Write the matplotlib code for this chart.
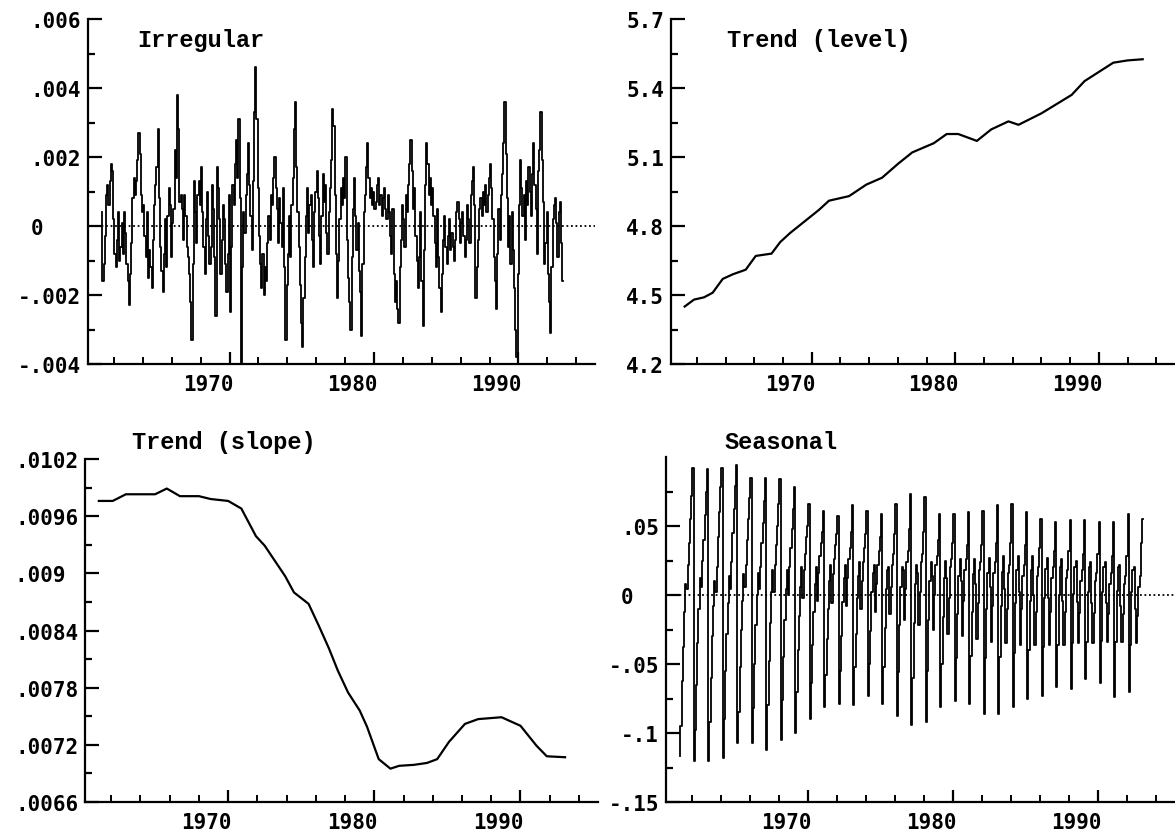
import numpy as np
import matplotlib.pyplot as plt
from matplotlib.ticker import FixedLocator, FixedFormatter

# monthly observations start here
START_YEAR = 1962.65

# irregular component, one row per 12 months
irregular = [
    0.0004, -0.0016, -0.0011, -0.0003, 0.0009, 0.0012, 0.0006, 0.0013, 0.0018, 0.0016, 0.0002, -0.0008,
    -0.0012, -0.0004, 0.0004, -0.0010, -0.0006, 0.0001, -0.0008, 0.0004, -0.0002, -0.0011, -0.0016, -0.0023,
    -0.0014, -0.0005, 0.0008, 0.0014, 0.0009, 0.0013, 0.0019, 0.0027, 0.0021, 0.0009, 0.0004, 0.0006,
    -0.0003, -0.0009, 0.0004, -0.0015, -0.0007, -0.0012, -0.0018, -0.0004, 0.0006, 0.0012, 0.0017, 0.0028,
    0.0008, -0.0006, -0.0013, -0.0019, -0.0008, 0.0002, -0.0012, 0.0003, 0.0011, 0.0006, -0.0009, 0.0001,
    0.0005, 0.0022, 0.0014, 0.0038, 0.0028, 0.0007, 0.0009, 0.0005, -0.0004, 0.0009, 0.0003, -0.0006,
    -0.0009, -0.0014, -0.0022, -0.0033, -0.0011, 0.0013, 0.0004, -0.0005, 0.0009, 0.0013, 0.0006, 0.0017,
    0.0004, -0.0006, -0.0014, 0.0002, 0.0010, -0.0003, -0.0011, -0.0006, 0.0012, 0.0005, -0.0009, -0.0026,
    0.0017, 0.0011, 0.0002, -0.0014, -0.0004, 0.0006, 0.0002, -0.0011, -0.0019, -0.0008, 0.0009, -0.0025,
    -0.0006, 0.0012, 0.0006, 0.0018, 0.0025, 0.0014, 0.0031, 0.0008, -0.0040, -0.0012, 0.0004, -0.0002,
    0.0009, 0.0015, 0.0024, 0.0012, 0.0003, -0.0007, 0.0013, 0.0033, 0.0046, 0.0031, 0.0011, -0.0003,
    -0.0011, -0.0018, -0.0008, -0.0020, -0.0012, -0.0016, -0.0005, 0.0003, -0.0004, 0.0009, 0.0006, 0.0014,
    0.0020, 0.0011, 0.0005, -0.0005, 0.0008, 0.0001, -0.0006, 0.0011, -0.0012, -0.0033, -0.0017, -0.0008,
    0.0003, -0.0009, 0.0006, 0.0014, 0.0028, 0.0036, 0.0017, 0.0004, -0.0006, -0.0017, -0.0028, -0.0035,
    -0.0021, -0.0009, 0.0003, 0.0011, -0.0002, 0.0006, 0.0009, -0.0004, -0.0012, 0.0004, 0.0010, 0.0016,
    0.0008, -0.0003, -0.0011, 0.0003, 0.0015, 0.0007, 0.0012, -0.0002, -0.0008, 0.0004, 0.0011, 0.0019,
    0.0034, 0.0029, 0.0009, -0.0008, -0.0021, -0.0010, 0.0002, 0.0011, 0.0006, 0.0014, 0.0008, 0.0020,
    -0.0004, -0.0015, -0.0022, -0.0030, -0.0009, 0.0005, 0.0014, 0.0003, -0.0007, 0.0001, -0.0013, -0.0019,
    -0.0032, -0.0011, 0.0004, 0.0009, 0.0017, 0.0024, 0.0014, 0.0008, 0.0011, 0.0006, 0.0010, 0.0005,
    0.0007, 0.0012, 0.0014, 0.0006, 0.0009, 0.0003, 0.0008, 0.0011, 0.0005, 0.0002, 0.0009, 0.0004,
    -0.0003, -0.0008, 0.0005, -0.0014, -0.0022, -0.0016, -0.0024, -0.0028, -0.0012, -0.0004, 0.0006, 0.0002,
    -0.0006, 0.0009, 0.0004, 0.0012, 0.0018, 0.0025, 0.0016, 0.0005, 0.0011, -0.0003, -0.0010, -0.0018,
    -0.0009, 0.0004, -0.0016, -0.0029, -0.0007, 0.0012, 0.0024, 0.0018, 0.0009, 0.0014, 0.0006, 0.0011,
    0.0003, -0.0005, -0.0012, 0.0005, -0.0009, -0.0018, -0.0025, -0.0014, -0.0004, 0.0003, -0.0006, -0.0011,
    -0.0003, 0.0002, -0.0007, -0.0002, -0.0006, -0.0010, -0.0004, 0.0004, 0.0007, 0.0002, -0.0005, 0.0001,
    0.0004, -0.0003, -0.0009, -0.0004, 0.0006, 0.0002, -0.0005, 0.0009, 0.0013, 0.0017, 0.0006, -0.0021,
    -0.0012, -0.0004, 0.0005, 0.0008, 0.0003, 0.0010, 0.0006, 0.0012, 0.0004, 0.0009, 0.0014, 0.0018,
    0.0011, 0.0002, -0.0009, -0.0016, -0.0024, -0.0008, 0.0005, -0.0004, 0.0009, 0.0015, 0.0024, 0.0036,
    0.0021, 0.0008, -0.0006, 0.0003, -0.0011, 0.0004, -0.0007, -0.0018, -0.0030, -0.0038, -0.0014, 0.0006,
    0.0019, 0.0011, 0.0003, 0.0009, -0.0004, 0.0013, 0.0006, 0.0017, 0.0010, 0.0003, 0.0015, 0.0024,
    0.0012, 0.0005, -0.0008, 0.0016, 0.0022, 0.0033, 0.0019, 0.0007, -0.0011, -0.0005, 0.0004, -0.0014,
    -0.0022, -0.0031, -0.0012, 0.0002, 0.0006, 0.0008, 0.0001, -0.0009, 0.0004, 0.0007, -0.0005, -0.0016,
]

# seasonal component, one row per 12 months (trough first, peak last)
seasonal = [
    -0.117, -0.095, -0.062, -0.038, -0.012, 0.008, 0.004, 0.022, 0.038, 0.055, 0.072, 0.092,
    -0.120, -0.098, -0.065, -0.035, -0.010, 0.012, 0.006, 0.025, 0.040, 0.058, 0.075, 0.091,
    -0.120, -0.092, -0.060, -0.030, -0.008, 0.010, 0.002, 0.020, 0.042, 0.060, 0.078, 0.092,
    -0.118, -0.090, -0.055, -0.028, -0.006, 0.014, 0.004, 0.024, 0.045, 0.062, 0.079, 0.094,
    -0.107, -0.085, -0.052, -0.025, -0.004, 0.015, 0.006, 0.022, 0.040, 0.055, 0.070, 0.085,
    -0.107, -0.082, -0.050, -0.022, 0.000, 0.016, 0.004, 0.020, 0.038, 0.052, 0.068, 0.085,
    -0.112, -0.080, -0.048, -0.020, 0.002, 0.018, 0.002, 0.022, 0.036, 0.050, 0.066, 0.084,
    -0.105, -0.076, -0.045, -0.018, 0.004, 0.018, 0.000, 0.020, 0.034, 0.048, 0.062, 0.078,
    -0.100, -0.070, -0.040, -0.015, 0.006, 0.020, -0.002, 0.018, 0.030, 0.042, 0.050, 0.066,
    -0.090, -0.064, -0.036, -0.012, 0.008, 0.020, -0.004, 0.016, 0.028, 0.038, 0.046, 0.061,
    -0.081, -0.058, -0.032, -0.010, 0.010, 0.022, -0.006, 0.015, 0.026, 0.036, 0.044, 0.057,
    -0.079, -0.055, -0.030, -0.005, 0.012, 0.022, -0.008, 0.012, 0.026, 0.034, 0.046, 0.065,
    -0.080, -0.052, -0.028, -0.002, 0.014, 0.024, -0.010, 0.010, 0.024, 0.034, 0.044, 0.061,
    -0.073, -0.050, -0.026, 0.002, 0.016, 0.022, -0.012, 0.008, 0.022, 0.032, 0.042, 0.059,
    -0.079, -0.052, -0.024, 0.004, 0.018, 0.020, -0.014, 0.006, 0.022, 0.030, 0.044, 0.066,
    -0.088, -0.056, -0.022, 0.006, 0.020, 0.018, -0.018, 0.004, 0.024, 0.032, 0.048, 0.073,
    -0.094, -0.060, -0.020, 0.008, 0.022, 0.016, -0.022, 0.002, 0.024, 0.030, 0.046, 0.071,
    -0.092, -0.055, -0.018, 0.010, 0.024, 0.014, -0.025, 0.000, 0.022, 0.028, 0.040, 0.059,
    -0.081, -0.050, -0.016, 0.012, 0.025, 0.012, -0.028, -0.002, 0.020, 0.026, 0.038, 0.059,
    -0.077, -0.046, -0.014, 0.014, 0.026, 0.010, -0.030, -0.004, 0.018, 0.026, 0.036, 0.060,
    -0.079, -0.044, -0.012, 0.015, 0.026, 0.008, -0.032, -0.006, 0.018, 0.024, 0.036, 0.061,
    -0.086, -0.046, -0.010, 0.016, 0.027, 0.006, -0.034, -0.008, 0.016, 0.024, 0.038, 0.065,
    -0.086, -0.045, -0.008, 0.017, 0.028, 0.004, -0.035, -0.010, 0.016, 0.022, 0.038, 0.066,
    -0.081, -0.042, -0.006, 0.018, 0.028, 0.002, -0.036, -0.010, 0.014, 0.022, 0.036, 0.060,
    -0.075, -0.040, -0.004, 0.018, 0.028, 0.000, -0.036, -0.012, 0.014, 0.020, 0.034, 0.055,
    -0.073, -0.038, -0.002, 0.019, 0.027, -0.002, -0.036, -0.012, 0.012, 0.020, 0.032, 0.053,
    -0.067, -0.036, 0.000, 0.020, 0.026, -0.004, -0.036, -0.012, 0.012, 0.018, 0.032, 0.054,
    -0.068, -0.035, 0.001, 0.020, 0.025, -0.005, -0.035, -0.013, 0.010, 0.018, 0.030, 0.054,
    -0.061, -0.034, 0.002, 0.020, 0.024, -0.006, -0.035, -0.013, 0.010, 0.016, 0.030, 0.053,
    -0.064, -0.033, 0.002, 0.020, 0.024, -0.006, -0.034, -0.014, 0.008, 0.016, 0.028, 0.053,
    -0.074, -0.034, 0.003, 0.020, 0.022, -0.008, -0.034, -0.014, 0.008, 0.014, 0.028, 0.059,
    -0.070, -0.036, 0.002, 0.018, 0.020, -0.010, -0.035, -0.015, 0.006, 0.014, 0.038, 0.055,
]

# trend level, read at irregular dates
level_years = [1962.65, 1963.3, 1964.0, 1964.6, 1965.3, 1966.0, 1966.9, 1967.6, 1968.7, 1969.3,
               1970.0, 1971.0, 1972.0, 1972.7, 1974.1, 1975.3, 1976.4, 1977.5, 1978.5, 1980.0,
               1980.9, 1981.7, 1983.0, 1984.0, 1985.2, 1985.9, 1987.5, 1989.6, 1990.5, 1991.5,
               1992.5, 1993.5, 1994.55]
level = [4.45, 4.48, 4.49, 4.51, 4.57, 4.59, 4.61, 4.67, 4.68, 4.73,
         4.77, 4.82, 4.87, 4.91, 4.93, 4.98, 5.01, 5.07, 5.12, 5.16,
         5.20, 5.20, 5.17, 5.22, 5.255, 5.24, 5.29, 5.37, 5.43, 5.47,
         5.51, 5.52, 5.525]

# trend slope
slope_years = [1962.65, 1963.6, 1964.5, 1966.5, 1967.3, 1968.2, 1969.5, 1970.3, 1971.5, 1972.4,
               1973.4, 1974.0, 1975.4, 1976.0, 1977.0, 1977.7, 1978.4, 1979.0, 1979.7, 1980.5,
               1981.0, 1981.8, 1982.6, 1983.2, 1984.2, 1985.1, 1985.8, 1986.6, 1987.7, 1988.6,
               1990.2, 1991.5, 1992.6, 1993.3, 1994.55]
slope = [0.00976, 0.00976, 0.00983, 0.00983, 0.00989, 0.00981, 0.00981, 0.00978, 0.00976, 0.00968,
         0.00939, 0.00929, 0.00897, 0.00880, 0.00868, 0.00845, 0.00821, 0.00798, 0.00775, 0.00756,
         0.00739, 0.00705, 0.00695, 0.00698, 0.00699, 0.00701, 0.00705, 0.00723, 0.00742, 0.00747,
         0.00749, 0.00740, 0.00719, 0.00708, 0.00707]

year_labels = [1970, 1980, 1990]
small_tick_years = [1963.5 + 2 * k for k in range(17)]
tall_tick_years = [1971.5, 1981.5, 1991.5]
XLIM = (1961.7, 1996.8)

tick_font = {'family': 'DejaVu Sans Mono', 'weight': 'bold', 'size': 15}
title_font = {'family': 'Liberation Mono', 'weight': 'bold', 'size': 17}

months = START_YEAR + np.arange(len(irregular)) / 12.0


def style_axis(ax, yticks, ylabels, yminor, ylim):
    ax.set_xlim(*XLIM)
    ax.set_ylim(*ylim)
    for side in ('top', 'right'):
        ax.spines[side].set_visible(False)
    for side in ('left', 'bottom'):
        ax.spines[side].set_linewidth(1.6)

    ax.yaxis.set_major_locator(FixedLocator(yticks))
    ax.yaxis.set_major_formatter(FixedFormatter(ylabels))
    ax.yaxis.set_minor_locator(FixedLocator(yminor))
    ax.tick_params(axis='y', which='major', direction='in', length=10, width=1.6, pad=5)
    ax.tick_params(axis='y', which='minor', direction='in', length=5, width=1.6)

    ax.xaxis.set_major_locator(FixedLocator(year_labels))
    ax.xaxis.set_major_formatter(FixedFormatter([str(y) for y in year_labels]))
    ax.xaxis.set_minor_locator(FixedLocator(small_tick_years))
    ax.tick_params(axis='x', which='major', length=0, pad=7)
    ax.tick_params(axis='x', which='minor', direction='in', length=5, width=1.4)

    for lab in ax.get_xticklabels() + ax.get_yticklabels():
        lab.set_fontproperties(tick_font)

    # taller marks every ten years
    sec = ax.secondary_xaxis('bottom')
    sec.set_xticks(tall_tick_years)
    sec.tick_params(direction='in', length=9, width=1.6, labelbottom=False)
    sec.spines['bottom'].set_visible(False)


fig = plt.figure(figsize=(11.75, 8.37), dpi=100)

ax1 = fig.add_axes([0.0749, 0.5639, 0.4315, 0.4122])
ax2 = fig.add_axes([0.5711, 0.5639, 0.4289, 0.4122])
ax3 = fig.add_axes([0.0723, 0.0406, 0.4366, 0.4098])
ax4 = fig.add_axes([0.5668, 0.0406, 0.4332, 0.4122])

# Irregular
ax1.plot(months, irregular, color='black', lw=1.3, drawstyle='steps-mid')
ax1.axhline(0, color='black', lw=1.3, linestyle=(0, (1, 1.5)))
style_axis(ax1, [-0.004, -0.002, 0, 0.002, 0.004, 0.006],
           ['-.004', '-.002', '0   ', '.002', '.004', '.006'],
           [-0.003, -0.001, 0.001, 0.003, 0.005], (-0.004, 0.006))
ax1.text(0.097, 0.942, 'Irregular', transform=ax1.transAxes, va='center', **title_font)

# Trend (level)
ax2.plot(level_years, level, color='black', lw=1.6)
style_axis(ax2, [4.2, 4.5, 4.8, 5.1, 5.4, 5.7],
           ['4.2', '4.5', '4.8', '5.1', '5.4', '5.7'],
           [4.35, 4.65, 4.95, 5.25, 5.55], (4.2, 5.7))
ax2.text(0.111, 0.942, 'Trend (level)', transform=ax2.transAxes, va='center', **title_font)

# Trend (slope)
ax3.plot(slope_years, slope, color='black', lw=1.6)
style_axis(ax3, [0.0066, 0.0072, 0.0078, 0.0084, 0.0090, 0.0096, 0.0102],
           ['.0066', '.0072', '.0078', '.0084', '.009 ', '.0096', '.0102'],
           [0.0069, 0.0075, 0.0081, 0.0087, 0.0093, 0.0099], (0.0066, 0.0102))
ax3.text(0.092, 1.052, 'Trend (slope)', transform=ax3.transAxes, va='center', **title_font)

# Seasonal
ax4.plot(months, seasonal, color='black', lw=1.3, drawstyle='steps-mid')
ax4.axhline(0, color='black', lw=1.3, linestyle=(0, (1, 1.5)))
style_axis(ax4, [-0.15, -0.10, -0.05, 0, 0.05],
           ['-.15', '-.1', '-.05', '0  ', '.05'],
           [-0.125, -0.075, -0.025, 0.025, 0.075], (-0.15, 0.10))
ax4.text(0.114, 1.046, 'Seasonal', transform=ax4.transAxes, va='center', **title_font)

fig.savefig('out.png', dpi=100)
